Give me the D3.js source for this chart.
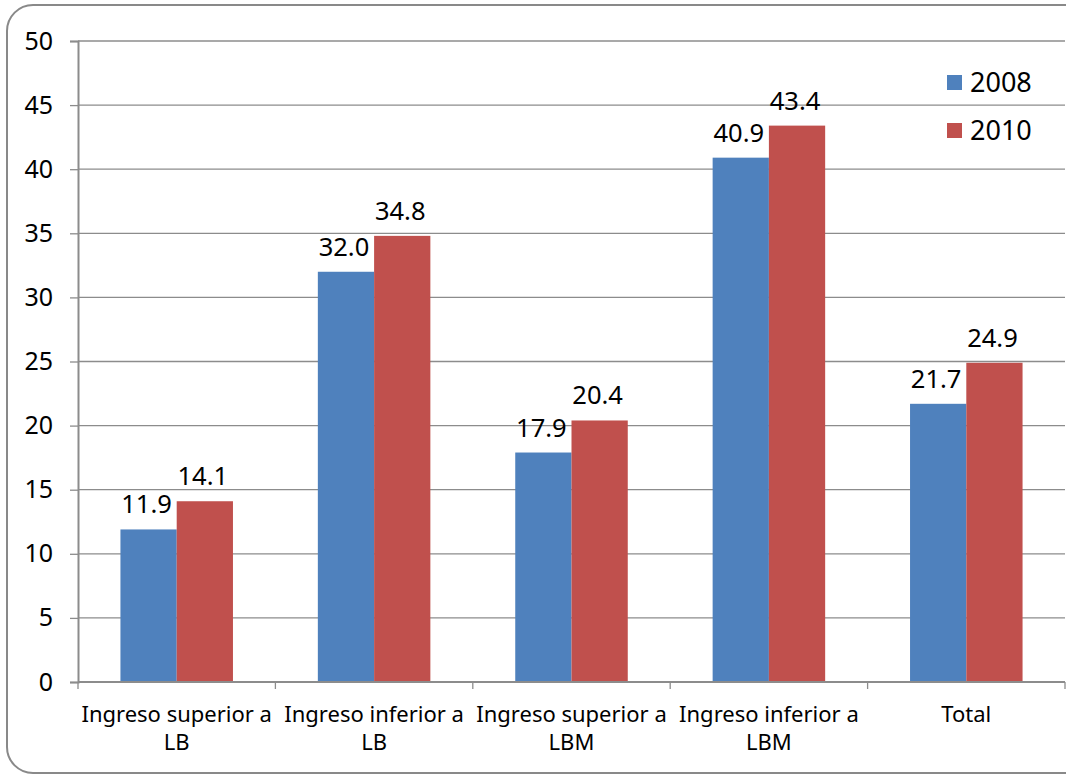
<!DOCTYPE html>
<html>
<head>
<meta charset="utf-8">
<script src="https://d3js.org/d3.v7.min.js"></script>
<style>
  body { margin: 0; background: #fff; }
  text { font-family: "Noto Sans", "Open Sans", sans-serif; fill: #000; }
</style>
</head>
<body>
<div id="chart"></div>
<script>
var categories = [["Ingreso superior a", "LB"], ["Ingreso inferior a", "LB"], ["Ingreso superior a", "LBM"], ["Ingreso inferior a", "LBM"], ["Total"]];
var series = ["2008", "2010"];
var values2008 = [11.9, 32.0, 17.9, 40.9, 21.7];
var values2010 = [14.1, 34.8, 20.4, 43.4, 24.9];
var yTicks = [0, 5, 10, 15, 20, 25, 30, 35, 40, 45, 50];
var colors = ["#4f81bd", "#c0504d"];

var W = 1066, H = 778;
var plotLeft = 78, plotRight = 1065, plotTop = 41, plotBottom = 682;

var svg = d3.select("#chart").append("svg").attr("width", W).attr("height", H);

// outer frame
svg.append("rect").attr("x", 7).attr("y", 5).attr("width", 1090).attr("height", 768)
  .attr("rx", 26).attr("ry", 26).attr("fill", "#fff").attr("stroke", "#898989").attr("stroke-width", 2);

var idx = d3.range(categories.length);
var x = d3.scaleBand().domain(idx).range([plotLeft, plotRight]).padding(0);
var y = d3.scaleLinear().domain([0, 50]).range([plotBottom, plotTop]);
var pad = 0.215;
// inner scale spanning the bar cluster
var inner = d3.scaleBand().domain(series).range([x.bandwidth() * pad, x.bandwidth() * (1 - pad)]);

// gridlines
svg.append("g").selectAll("line").data(yTicks.slice(1)).enter().append("line")
  .attr("x1", plotLeft).attr("x2", plotRight).attr("y1", d => y(d)).attr("y2", d => y(d))
  .attr("stroke", "#8c8c8c").attr("stroke-width", 1.3);

// y axis
var yAxis = svg.append("g").attr("transform", "translate(" + plotLeft + ",0)")
  .call(d3.axisLeft(y).tickValues(yTicks).tickSize(8).tickPadding(17));
yAxis.select(".domain").attr("stroke", "#8c8c8c").attr("stroke-width", 2);
yAxis.selectAll(".tick line").attr("stroke", "#8c8c8c").attr("stroke-width", 1.3);
yAxis.selectAll(".tick text").attr("font-size", 25).attr("font-family", "Noto Sans");

// bars
var data = [values2008, values2010];
series.forEach(function(s, si) {
  svg.append("g").selectAll("rect").data(data[si]).enter().append("rect")
    .attr("x", (d, i) => x(i) + inner(s))
    .attr("width", inner.bandwidth())
    .attr("y", d => y(d))
    .attr("height", d => y(0) - y(d))
    .attr("fill", colors[si]);
  svg.append("g").selectAll("text").data(data[si]).enter().append("text")
    .attr("x", (d, i) => x(i) + inner(s) + inner.bandwidth() / 2 - 2)
    .attr("y", d => y(d) - 16)
    .attr("text-anchor", "middle")
    .attr("font-size", 25.5)
    .text(d => d.toFixed(1));
});

// x axis
var xAxis = svg.append("g").attr("transform", "translate(0," + plotBottom + ")");
xAxis.append("line").attr("x1", plotLeft).attr("x2", plotRight).attr("stroke", "#8c8c8c").attr("stroke-width", 2);
xAxis.selectAll(".tk").data(d3.range(categories.length + 1)).enter().append("line")
  .attr("x1", d => plotLeft + d * x.step()).attr("x2", d => plotLeft + d * x.step())
  .attr("y1", 0).attr("y2", 7).attr("stroke", "#8c8c8c").attr("stroke-width", 1.3);
xAxis.selectAll(".lbl").data(categories).enter().append("text")
  .attr("text-anchor", "middle")
  .attr("font-size", 22)
  .attr("x", (d, i) => x(i) + x.bandwidth() / 2)
  .attr("y", 40)
  .each(function(d) {
    var t = d3.select(this);
    d.forEach(function(line, li) {
      t.append("tspan").attr("x", t.attr("x")).attr("dy", li === 0 ? 0 : 28).text(line);
    });
  });

// legend
var legend = svg.append("g").attr("transform", "translate(947,75)");
series.forEach(function(s, i) {
  legend.append("rect").attr("x", 0).attr("y", i * 48).attr("width", 15).attr("height", 15).attr("fill", colors[i]);
  legend.append("text").attr("x", 23).attr("y", i * 48 + 17).attr("font-size", 27).text(s);
});
</script>
</body>
</html>
